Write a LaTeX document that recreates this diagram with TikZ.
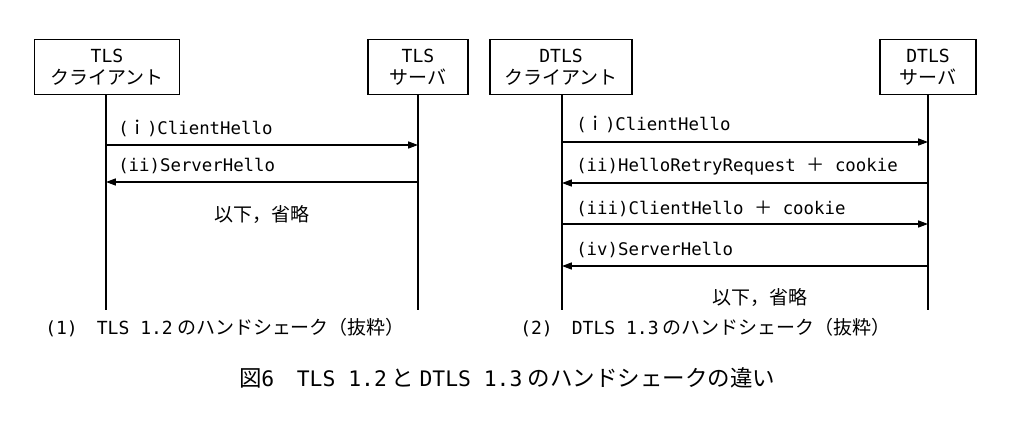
\documentclass[tikz,border=0pt]{standalone}
\usepackage{fontspec}
\setmainfont{Noto Sans CJK JP}
\newfontfamily\mymono{DejaVu Sans Mono}[Scale=0.95]
\newcommand{\m}[1]{{\mymono #1}}
\usetikzlibrary{arrows.meta}
\begin{document}
\begin{tikzpicture}[x=0.025cm,y=-0.025cm,
 box/.style={draw,line width=0.8pt,align=center,inner sep=0pt,font=\fontsize{13.5}{16}\selectfont},
 life/.style={line width=0.8pt},
 msg/.style={line width=0.8pt,-{Triangle[length=7pt,width=5pt]}},
 lab/.style={font=\fontsize{13}{14}\selectfont,anchor=base west,inner sep=0pt},
 txt/.style={font=\fontsize{13.5}{15}\selectfont,inner sep=0pt}]
\useasboundingbox (0,0) rectangle (1009,437);
\node[box,minimum width=145*0.025cm,minimum height=55*0.025cm] (c1) at (107,67) {\m{TLS}\\クライアント};
\node[box,minimum width=100*0.025cm,minimum height=55*0.025cm] (s1) at (418,67) {\m{TLS}\\サーバ};
\node[box,minimum width=142*0.025cm,minimum height=55*0.025cm] (c2) at (561,67) {\m{DTLS}\\クライアント};
\node[box,minimum width=96*0.025cm,minimum height=55*0.025cm] (s2) at (928,67) {\m{DTLS}\\サーバ};
\coordinate (c1e) at (106,310); \coordinate (s1e) at (418,310);
\coordinate (c2e) at (562,310); \coordinate (s2e) at (928,310);
\draw[life] (c1.south -| c1e) -- (c1e);
\draw[life] (s1.south) -- (s1e);
\draw[life] (c2.south -| c2e) -- (c2e);
\draw[life] (s2.south) -- (s2e);
% left
\coordinate (a1) at (106,145); \coordinate (b1) at (418,145);
\coordinate (a2) at (106,182); \coordinate (b2) at (418,182);
\draw[msg] (a1) -- (b1); \draw[msg] (b2) -- (a2);
\node[lab] (l1) at (118,134) {\m{(}ｉ\m{)ClientHello}};
\node[lab] (l2) at (118,171) {\m{(ii)ServerHello}};
\node[txt] (o1) at (262,214) {以下，省略};
% right
\coordinate (a3) at (562,142); \coordinate (b3) at (928,142);
\coordinate (a4) at (562,183); \coordinate (b4) at (928,183);
\coordinate (a5) at (562,224); \coordinate (b5) at (928,224);
\coordinate (a6) at (562,266); \coordinate (b6) at (928,266);
\draw[msg] (a3) -- (b3); \draw[msg] (b4) -- (a4);
\draw[msg] (a5) -- (b5); \draw[msg] (b6) -- (a6);
\node[lab] (l3) at (576,130) {\m{(}ｉ\m{)ClientHello}};
\node[lab] (l4) at (576,171) {\m{(ii)HelloRetryRequest }＋\m{ cookie}};
\node[lab] (l5) at (576,214) {\m{(iii)ClientHello }＋\m{ cookie}};
\node[lab] (l6) at (576,255) {\m{(iv)ServerHello}};
\node[txt] (o2) at (760,297) {以下，省略};
\node[txt,anchor=west] (cap1) at (45,328) {\m{(1)}　\m{TLS 1.2} のハンドシェーク（抜粋）};
\node[txt,anchor=west] (cap2) at (520,328) {\m{(2)}　\m{DTLS 1.3} のハンドシェーク（抜粋）};
\node[font=\fontsize{16}{18}\selectfont,inner sep=0pt] (title) at (507,378) {図\m{6}　\m{TLS 1.2} と \m{DTLS 1.3} のハンドシェークの違い};
\end{tikzpicture}
\end{document}
